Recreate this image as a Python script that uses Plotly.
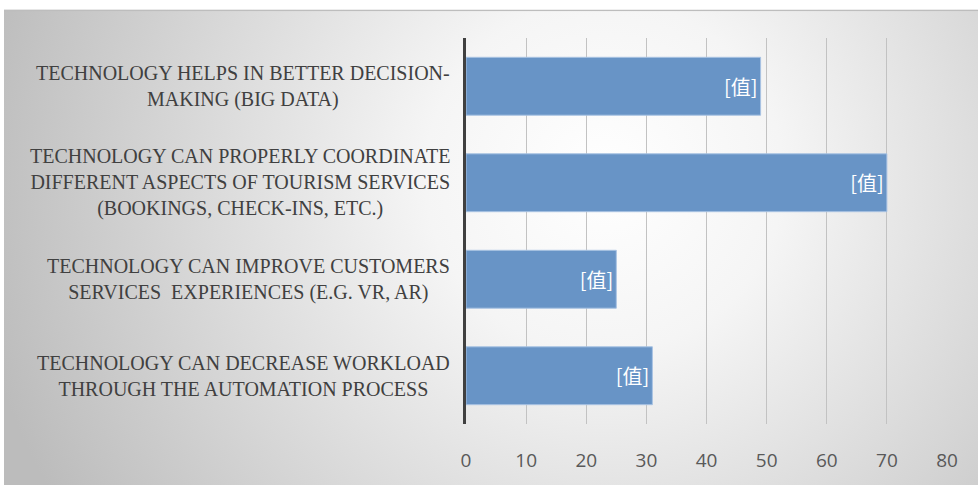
import base64
import plotly.graph_objects as go

categories = [
    "TECHNOLOGY HELPS IN BETTER DECISION-<br>MAKING (BIG DATA)",
    "TECHNOLOGY CAN PROPERLY COORDINATE<br>DIFFERENT ASPECTS OF TOURISM SERVICES<br>(BOOKINGS, CHECK-INS, ETC.)",
    "TECHNOLOGY CAN IMPROVE CUSTOMERS<br>SERVICES  EXPERIENCES (E.G. VR, AR)",
    "TECHNOLOGY CAN DECREASE WORKLOAD<br>THROUGH THE AUTOMATION PROCESS",
]
values = [49, 70, 25, 31]
bar_labels = ["[值]", "[值]", "[值]", "[值]"]
x_ticks = [0, 10, 20, 30, 40, 50, 60, 70, 80]

W, H = 978, 485
L, R, T, B = 466, 31, 38, 53
pw, ph = W - L - R, H - T - B

svg = (
    '<svg xmlns="http://www.w3.org/2000/svg" width="974" height="500" viewBox="0 0 974 500" '
    'preserveAspectRatio="none">'
    '<defs><radialGradient id="g" gradientUnits="userSpaceOnUse" cx="600" cy="170" r="640">'
    '<stop offset="0" stop-color="#ffffff"/><stop offset="0.28" stop-color="#f5f5f5"/>'
    '<stop offset="1" stop-color="#bcbcbc"/></radialGradient></defs>'
    '<rect width="974" height="500" fill="url(#g)"/>'
    '<rect x="0" y="0" width="974" height="1.5" fill="#bdbdbd"/>'
    '</svg>'
)
src = "data:image/svg+xml;base64," + base64.b64encode(svg.encode()).decode()

fig = go.Figure()
fig.add_trace(go.Bar(
    y=categories, x=values, orientation="h",
    text=bar_labels, textposition="inside", insidetextanchor="end",
    textfont=dict(family="Noto Sans CJK SC", size=20, color="white"),
    marker=dict(color="#6894c6", line=dict(color="#a9c3e3", width=1)),
    width=0.6, hoverinfo="skip",
))

annotations = []
for c in categories:
    annotations.append(dict(
        x=(452 - L) / pw, xref="paper", y=c, yref="y",
        xanchor="right", yanchor="middle", align="center",
        text=c, showarrow=False,
        font=dict(family="Liberation Serif", size=20, color="#404040"),
    ))

fig.update_layout(
    width=W, height=H,
    margin=dict(l=L, r=R, t=T, b=B, pad=0),
    paper_bgcolor="white", plot_bgcolor="rgba(0,0,0,0)",
    showlegend=False,
    annotations=annotations,
    images=[dict(
        source=src, xref="paper", yref="paper",
        x=(4 - L) / pw, y=(H - B - 9) / ph,
        sizex=(W - 4) / pw, sizey=(500) / ph,
        xanchor="left", yanchor="top", sizing="stretch", layer="below",
    )],
    xaxis=dict(
        range=[0, 80], tickvals=x_ticks, ticktext=[str(v) for v in x_ticks],
        showgrid=True, gridcolor="#c2c2c2", gridwidth=1,
        zeroline=False, showline=False,
        ticks="outside", ticklen=19, tickcolor="rgba(0,0,0,0)",
        tickfont=dict(family="Open Sans", size=19, color="#595959"),
        fixedrange=True,
    ),
    yaxis=dict(
        autorange="reversed", showticklabels=False, showgrid=False,
        showline=True, linecolor="#404040", linewidth=2.5, zeroline=False,
        ticks="", fixedrange=True,
    ),
)

fig.write_html(
    "out.html",
    config={"displayModeBar": False},
    post_script="document.body.style.margin='0';document.body.style.overflow='hidden';",
)
